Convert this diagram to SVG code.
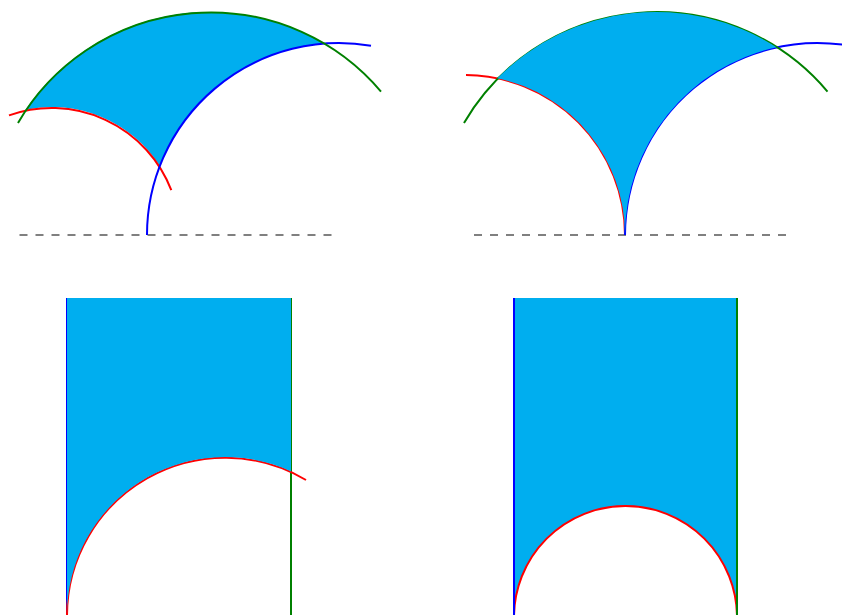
<svg xmlns="http://www.w3.org/2000/svg" width="842" height="615" viewBox="0 0 842 615">
<style>
.ln{fill:none;stroke-width:2}
.r{stroke:#ff0000}.b{stroke:#0000ff}.g{stroke:#008000}
.fill{fill:#00aeef;stroke:none}
.dash{stroke:#808080;stroke-width:2;stroke-dasharray:8 8;fill:none}
</style>
<rect width="842" height="615" fill="#ffffff"/>
<g id="panel-top-left">
  <line class="dash" x1="19.5" y1="235" x2="331.5" y2="235"/>
  <path class="fill" d="M25.48,109.8 A223,223 0 0 1 324.4,43.6 A192,192 0 0 0 159.82,166 A128,128 0 0 0 25.48,109.8 Z"/>
  <path class="ln r" d="M9,115.4 A128,128 0 0 1 171.3,190.2"/>
  <path class="ln b" d="M147,235 A192,192 0 0 1 371,45.7"/>
  <path class="ln g" d="M18,123 A223,223 0 0 1 381,91.6"/>
</g>
<g id="panel-top-right">
  <line class="dash" x1="474" y1="235" x2="786" y2="235"/>
  <path class="ln r" d="M466,75 A160,160 0 0 1 625,235"/>
  <path class="ln b" d="M625,235 A192.5,192.5 0 0 1 849.5,45.7"/>
  <path class="ln g" d="M464,123 A223,223 0 0 1 827.5,91.6"/>
  <path class="fill" d="M497.3,78.3 A223,223 0 0 1 776.5,47.3 A192.5,192.5 0 0 0 625,235 A160,160 0 0 0 497.3,78.3 Z"/>
</g>
<g id="panel-bottom-left">
  <line class="ln b" x1="67" y1="298" x2="67" y2="615"/>
  <line class="ln g" x1="291" y1="298" x2="291" y2="615"/>
  <path class="ln r" d="M67,616 A158,158 0 0 1 306,480"/>
  <path class="fill" d="M67,298 L291,298 L291,471.5 A158,158 0 0 0 67,616 Z"/>
</g>
<g id="panel-bottom-right">
  <path class="fill" d="M514,298 L737,298 L737,617.5 A111.5,111.5 0 0 0 514,617.5 Z"/>
  <path class="ln r" d="M514,617.5 A111.5,111.5 0 0 1 737,617.5"/>
  <line class="ln b" x1="514" y1="298" x2="514" y2="615"/>
  <line class="ln g" x1="737" y1="298" x2="737" y2="615"/>
</g>
</svg>
